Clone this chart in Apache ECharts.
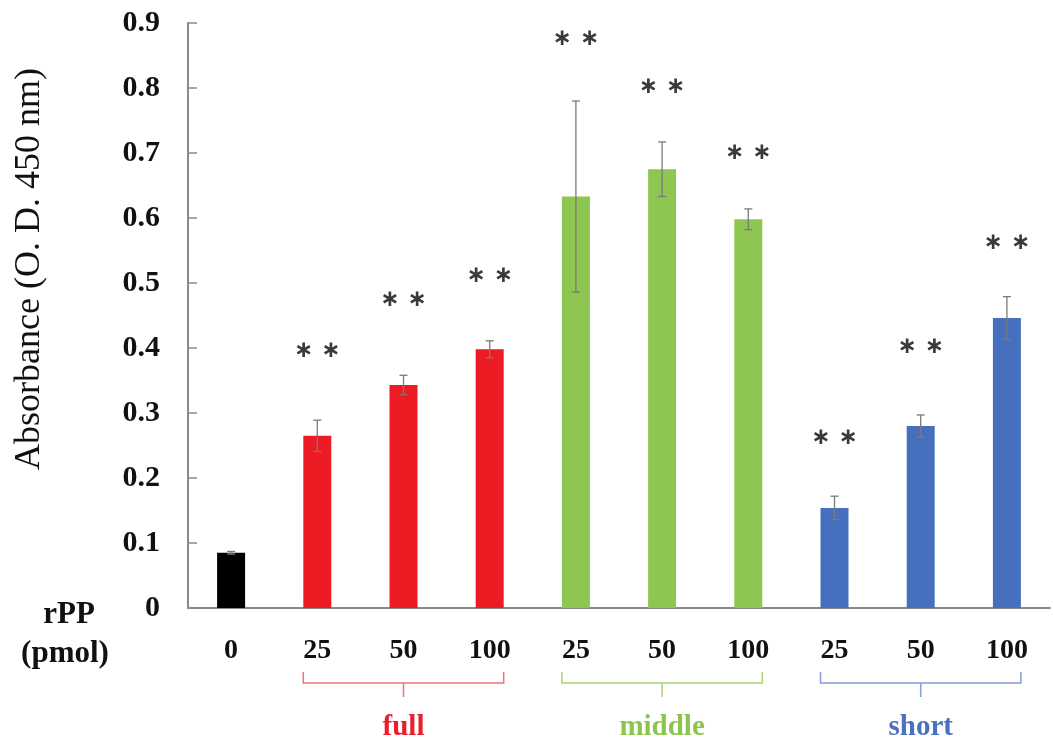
<!DOCTYPE html>
<html>
<head>
<meta charset="utf-8">
<script src="https://cdn.jsdelivr.net/npm/echarts@6/dist/echarts.min.js"></script>
<style>html,body{margin:0;padding:0;background:#fff}#c{width:1053px;height:747px}</style>
</head>
<body>
<div id="c"></div>
<script>
// ---- data ----
const categories = ['0', '25', '50', '100', '25', '50', '100', '25', '50', '100'];
const values = [0.085, 0.265, 0.343, 0.398, 0.633, 0.675, 0.598, 0.154, 0.280, 0.446];
const errors = [0.002, 0.024, 0.015, 0.013, 0.147, 0.042, 0.016, 0.018, 0.017, 0.033];
const starLevels = [null, 0.395, 0.474, 0.511, 0.875, 0.802, 0.700, 0.261, 0.402, 0.562];
const groupNames = ['full', 'middle', 'short'];
const groupStarts = [1, 4, 7];
const groupSize = 3;
const yMin = 0, yMax = 0.9, yStep = 0.1;
const yTitle = 'Absorbance (O. D. 450 nm)';
const xTitle1 = 'rPP', xTitle2 = '(pmol)';

// ---- styles ----
const barColors = ['#000000', '#ed1c24', '#ed1c24', '#ed1c24', '#8dc651', '#8dc651', '#8dc651', '#4670bd', '#4670bd', '#4670bd'];
const groupLabelColors = ['#ea1f29', '#8cc54e', '#4a72bc'];
const bracketColors = ['#f07075', '#a9d574', '#819fd8'];
const serif = '"Liberation Serif", "DejaVu Serif", serif';

const chart = echarts.init(document.getElementById('c'), null, {renderer: 'canvas'});

const option = {
  backgroundColor: '#fff',
  animation: false,
  grid: {left: 188, right: 3, top: 23, bottom: 139, containLabel: false},
  xAxis: {
    type: 'category',
    data: categories,
    axisLine: {lineStyle: {color: '#8a8a8a', width: 2}},
    axisTick: {show: false},
    axisLabel: {color: '#111', fontFamily: serif, fontWeight: 'bold', fontSize: 28, margin: 29}
  },
  yAxis: {
    type: 'value',
    min: yMin, max: yMax, interval: yStep,
    splitLine: {show: false},
    axisLine: {show: true, lineStyle: {color: '#8a8a8a', width: 2}},
    axisTick: {show: true, inside: true, length: 9, lineStyle: {color: '#8a8a8a', width: 1.5}},
    axisLabel: {
      color: '#111', fontFamily: serif, fontWeight: 'bold', fontSize: 30, margin: 28,
      formatter: v => (Math.abs(v) < 1e-9 ? '0' : v.toFixed(1))
    }
  },
  graphic: [
    {type: 'text', x: 30, y: 269, rotation: Math.PI / 2,
     style: {text: yTitle, font: '36px ' + serif, fill: '#111', align: 'center', verticalAlign: 'middle', textAlign: 'center', textVerticalAlign: 'middle'}},
    {type: 'text', x: 69, y: 615,
     style: {text: xTitle1, font: 'bold 31px ' + serif, fill: '#111', align: 'center', verticalAlign: 'middle', textAlign: 'center', textVerticalAlign: 'middle'}},
    {type: 'text', x: 65, y: 654,
     style: {text: xTitle2, font: 'bold 31px ' + serif, fill: '#111', align: 'center', verticalAlign: 'middle', textAlign: 'center', textVerticalAlign: 'middle'}}
  ],
  series: [
    {
      type: 'bar',
      data: values.map((v, i) => ({value: v, itemStyle: {color: barColors[i]}})),
      barWidth: 28,
      z: 2
    },
    {
      type: 'custom',
      z: 3,
      data: values.map((v, i) => [i, v, errors[i]]),
      renderItem: function (params, api) {
        const i = api.value(0), v = api.value(1), e = api.value(2);
        const top = api.coord([i, v + e]);
        const bot = api.coord([i, v - e]);
        const hw = 4;
        const st = {stroke: '#7a7a7a', lineWidth: 1.3};
        return {type: 'group', children: [
          {type: 'line', shape: {x1: top[0], y1: top[1], x2: bot[0], y2: bot[1]}, style: st},
          {type: 'line', shape: {x1: top[0] - hw, y1: top[1], x2: top[0] + hw, y2: top[1]}, style: st},
          {type: 'line', shape: {x1: bot[0] - hw, y1: bot[1], x2: bot[0] + hw, y2: bot[1]}, style: st}
        ]};
      }
    },
    {
      type: 'custom',
      z: 4,
      data: starLevels.map((s, i) => (s == null ? null : [i, s])).filter(d => d),
      renderItem: function (params, api) {
        const p = api.coord([api.value(0), api.value(1)]);
        return {type: 'text', x: p[0], y: p[1],
          style: {text: '∗ ∗', font: 'bold 23px "DejaVu Sans", sans-serif', fill: '#3a3a3a',
                  align: 'center', verticalAlign: 'middle', textAlign: 'center', textVerticalAlign: 'middle'}};
      }
    },
    {
      type: 'custom',
      z: 4,
      clip: false,
      data: groupStarts.map((s, g) => [s, 0, g]),
      renderItem: function (params, api) {
        const s = api.value(0), g = api.value(2);
        const left = api.coord([s, 0]);
        const mid = api.coord([s + (groupSize - 1) / 2, 0]);
        const right = api.coord([s + groupSize - 1, 0]);
        const y0 = left[1];
        const xL = left[0] - 14, xR = right[0] + 14, xM = mid[0];
        const yT = y0 + 64, yH = y0 + 75, yS = y0 + 89;
        const st = {stroke: bracketColors[g], lineWidth: 1.5, fill: null};
        return {type: 'group', children: [
          {type: 'polyline', shape: {points: [[xL, yT], [xL, yH], [xR, yH], [xR, yT]]}, style: st},
          {type: 'line', shape: {x1: xM, y1: yH, x2: xM, y2: yS}, style: st},
          {type: 'text', x: xM, y: y0 + 120,
           style: {text: groupNames[g], font: 'bold 29px ' + serif, fill: groupLabelColors[g],
                   align: 'center', verticalAlign: 'middle', textAlign: 'center', textVerticalAlign: 'middle'}}
        ]};
      }
    }
  ]
};
chart.setOption(option);
</script>
</body>
</html>
